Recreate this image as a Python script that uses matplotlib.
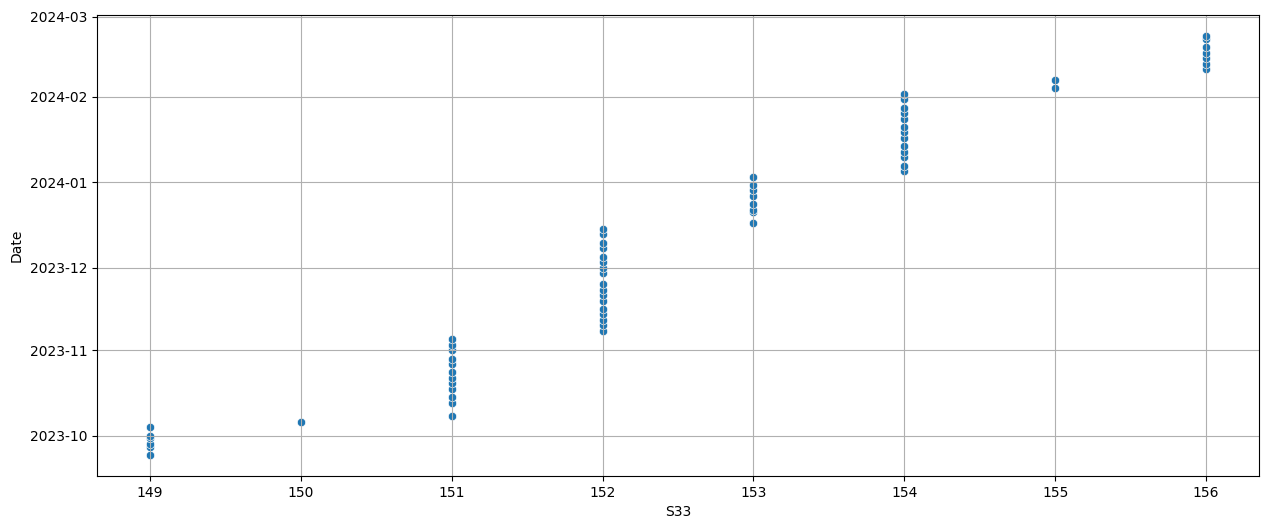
import matplotlib
matplotlib.use("Agg")
import matplotlib.pyplot as plt
import matplotlib.dates as mdates
import pandas as pd
import seaborn as sns

# S33 值与对应日期
s33_149 = ["2023-09-24", "2023-09-27", "2023-09-28", "2023-09-30", "2023-10-01", "2023-10-04"]
s33_150 = ["2023-10-06"]
s33_151 = ["2023-10-08", "2023-10-13", "2023-10-15", "2023-10-18", "2023-10-20", "2023-10-22",
           "2023-10-24", "2023-10-27", "2023-10-29", "2023-11-01", "2023-11-03", "2023-11-05"]
s33_152 = ["2023-11-08", "2023-11-10", "2023-11-12", "2023-11-14", "2023-11-16", "2023-11-19",
           "2023-11-21", "2023-11-23", "2023-11-25", "2023-11-29", "2023-12-01", "2023-12-03",
           "2023-12-05", "2023-12-08", "2023-12-10", "2023-12-13", "2023-12-15"]
s33_153 = ["2023-12-17", "2023-12-21", "2023-12-22", "2023-12-24", "2023-12-27", "2023-12-29",
           "2023-12-31", "2024-01-03"]
s33_154 = ["2024-01-05", "2024-01-07", "2024-01-10", "2024-01-12", "2024-01-14", "2024-01-17",
           "2024-01-19", "2024-01-21", "2024-01-24", "2024-01-26", "2024-01-28", "2024-01-31",
           "2024-02-02"]
s33_155 = ["2024-02-04", "2024-02-07"]
s33_156 = ["2024-02-11", "2024-02-13", "2024-02-15", "2024-02-17", "2024-02-19", "2024-02-22",
           "2024-02-23"]

groups = {149: s33_149, 150: s33_150, 151: s33_151, 152: s33_152,
          153: s33_153, 154: s33_154, 155: s33_155, 156: s33_156}

rows = []
for k, dates in groups.items():
    for d in dates:
        rows.append({"S33": k, "Date": pd.Timestamp(d)})
df = pd.DataFrame(rows)

fig = plt.figure(figsize=(12.69, 5.29), dpi=100)
ax = fig.add_subplot(111)
fig.subplots_adjust(left=0.0764, right=0.9921, top=0.9716, bottom=0.1002)

sns.scatterplot(data=df, x="S33", y="Date", ax=ax)

ax.yaxis.set_major_locator(mdates.MonthLocator())
ax.yaxis.set_major_formatter(mdates.DateFormatter("%Y-%m"))
ax.grid(True)

plt.savefig("out.png")
